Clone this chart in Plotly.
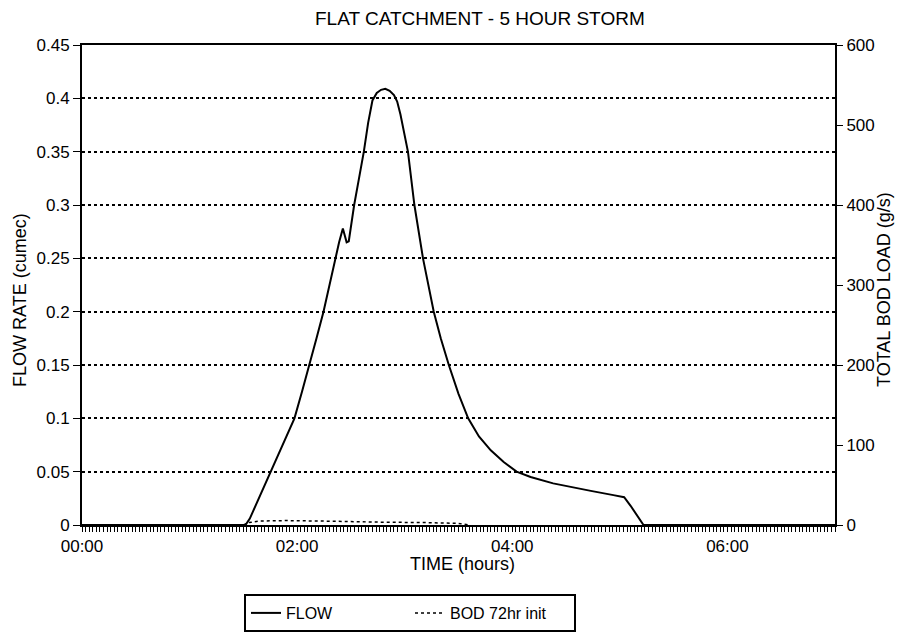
import plotly.graph_objects as go

# ---- data (time in hours) ----
flow_time = [0.0, 1.50, 1.52, 1.56, 1.60, 1.65, 1.70, 1.75, 1.84, 1.91, 1.975, 2.045,
             2.115, 2.18, 2.245, 2.30, 2.35, 2.39, 2.425, 2.44, 2.46, 2.48, 2.50, 2.53,
             2.575, 2.62, 2.66, 2.70, 2.74, 2.78, 2.82, 2.86, 2.90, 2.93, 2.96, 2.99,
             3.03, 3.09, 3.17, 3.27, 3.335, 3.41, 3.50, 3.59, 3.69, 3.80, 3.92, 4.04,
             4.17, 4.38, 4.45, 4.73, 4.94, 5.04, 5.10, 5.16, 5.22, 7.0]
flow_cumec = [0.0, 0.0, 0.0, 0.006, 0.015, 0.027, 0.038, 0.05, 0.070, 0.085, 0.10, 0.125,
              0.15, 0.175, 0.20, 0.225, 0.25, 0.265, 0.278, 0.272, 0.265, 0.266, 0.28, 0.30,
              0.325, 0.35, 0.377, 0.398, 0.405, 0.408, 0.409, 0.407, 0.403, 0.397, 0.385, 0.37,
              0.35, 0.30, 0.25, 0.20, 0.175, 0.15, 0.123, 0.10, 0.083, 0.070, 0.059, 0.05,
              0.045, 0.039, 0.0375, 0.032, 0.028, 0.026, 0.018, 0.009, 0.0, 0.0]

bod_time = [1.50, 1.55, 1.65, 1.90, 2.20, 2.50, 2.80, 3.20, 3.50, 3.60]
bod_load = [0.0, 3.0, 5.0, 5.5, 5.0, 4.0, 3.5, 3.0, 2.0, 0.0]

x_tickvals = [0, 2, 4, 6]
x_ticktext = ["00:00", "02:00", "04:00", "06:00"]

title_text = "FLAT CATCHMENT - 5 HOUR STORM"

FONT = "Liberation Sans, Arial, sans-serif"

fig = go.Figure()
fig.add_trace(go.Scatter(x=flow_time, y=flow_cumec, mode="lines", name="FLOW",
                         line=dict(color="black", width=2)))
fig.add_trace(go.Scatter(x=bod_time, y=bod_load, mode="lines", name="BOD 72hr init",
                         line=dict(color="black", width=1.5, dash="dot"), yaxis="y2"))

OFF = 8  # page body margin
W, H = 904 - OFF, 634 - OFF
L = 82 - OFF
T = 45 - OFF
R = W - (835 - OFF)
B = H - (525 - OFF)
pw, ph = W - L - R, H - T - B

def px(x):
    return (x - OFF - L) / pw

def py(y):
    return (H - B - (y - OFF)) / ph

fig.update_layout(
    width=W, height=H,
    margin=dict(l=L, r=R, t=T, b=B, autoexpand=False),
    paper_bgcolor="white", plot_bgcolor="white",
    font=dict(family=FONT, size=17, color="black"),
    showlegend=True,
    legend=dict(orientation="h", x=px(244), y=py(594), xanchor="left", yanchor="top",
                bordercolor="black", borderwidth=2, font=dict(size=16),
                bgcolor="white", entrywidth=119, entrywidthmode="pixels"),
    xaxis=dict(range=[0, 7], tickmode="array", tickvals=x_tickvals, ticktext=x_ticktext,
               showgrid=False, zeroline=False, showline=True, linecolor="black", linewidth=2,
               mirror=True, ticks="outside", ticklen=5, tickcolor="black", tickwidth=1,
               tickfont=dict(size=17),
               minor=dict(dtick=1/30, tick0=0, ticks="outside", ticklen=5,
                          tickcolor="black", tickwidth=1, showgrid=False)),
    yaxis=dict(range=[0, 0.45], dtick=0.05, tick0=0, showgrid=True, gridcolor="black",
               griddash="dot", gridwidth=1.5, zeroline=False, showline=True,
               linecolor="black", linewidth=2, ticks="outside", ticklen=7,
               tickcolor="black", tickfont=dict(size=17)),
    yaxis2=dict(range=[0, 600], dtick=100, tick0=0, overlaying="y", side="right",
                showgrid=False, zeroline=False, showline=True, linecolor="black",
                linewidth=2, ticks="outside", ticklen=6, tickcolor="black",
                tickfont=dict(size=17)),
    annotations=[
        dict(text=title_text, x=px(480), y=py(19), xref="paper", yref="paper",
             showarrow=False, xanchor="center", yanchor="middle", font=dict(size=19)),
        dict(text="FLOW RATE (cumec)", x=px(20), y=py(300), xref="paper", yref="paper",
             showarrow=False, textangle=-90, xanchor="center", yanchor="middle",
             font=dict(size=18)),
        dict(text="TOTAL BOD LOAD (g/s)", x=px(884), y=py(290), xref="paper", yref="paper",
             showarrow=False, textangle=-90, xanchor="center", yanchor="middle",
             font=dict(size=18)),
        dict(text="TIME (hours)", x=px(462), y=py(564), xref="paper", yref="paper",
             showarrow=False, xanchor="center", yanchor="middle", font=dict(size=18)),
    ],
)

fig.write_html("out.html")
